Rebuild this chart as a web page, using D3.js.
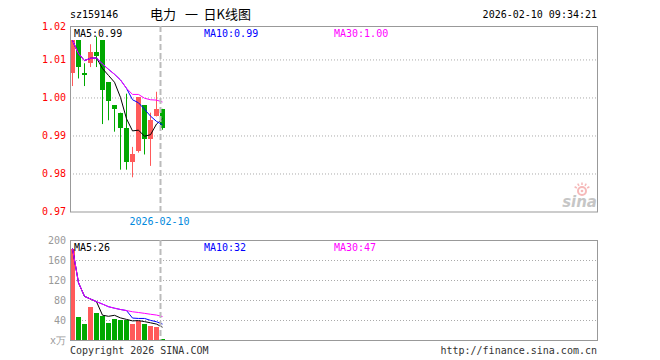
<!DOCTYPE html>
<html>
<head>
<meta charset="utf-8">
<script src="https://cdnjs.cloudflare.com/ajax/libs/d3/7.8.5/d3.min.js"></script>
<style>
body{margin:0;background:#fff;}
svg{display:block;}
text{font-family:"DejaVu Sans Mono",monospace;font-size:10px;}
</style>
</head>
<body>
<svg></svg>
<script>
// daily candles, oldest first
const opens  = [1.0065,1.015,1.0065,1.009,1.012,1.015,1.004,0.998,0.996,0.992,0.983,0.986,0.998,0.989,0.995,0.997];
const highs  = [1.015,1.015,1.009,1.014,1.016,1.015,1.004,0.998,0.996,1.001,0.987,1.000,0.998,0.996,1.0015,0.997];
const lows   = [1.003,1.005,1.003,1.008,1.008,0.993,0.994,0.991,0.981,0.981,0.979,0.9855,0.985,0.982,0.995,0.9915];
const closes = [1.015,1.008,1.006,1.012,1.011,1.002,0.999,0.997,0.992,0.983,0.985,1.000,0.989,0.994,0.997,0.992];

const ma5  = [1.015,1.0115,1.0097,1.0103,1.0104,1.0076,1.0058,1.0040,1.0000,0.9944,0.9912,0.9914,0.9898,0.9902,0.9930,0.9944];
const ma10 = [1.015,1.0115,1.0097,1.0103,1.0104,1.0088,1.0074,1.0061,1.0046,1.0024,0.9994,0.9986,0.9969,0.9951,0.9937,0.9928];
const ma30 = [1.015,1.0115,1.0097,1.0103,1.0104,1.0088,1.0074,1.0061,1.0046,1.0024,1.0008,1.0008,0.9998,0.9994,0.9993,0.9988];

// volume in 万
const volumes = [183,46,33,66,55,48,35,43,40,40,33,38,33,28,27,2];
const volMa5  = [183,114.5,87.3,82,76.6,49.6,47.4,49.4,44.2,41.2,38.2,38.8,36.8,34.4,31.8,25.6];
const volMa10 = [183,114.5,87.3,82,76.6,71.8,66.6,63.6,61,58.9,43.9,43.1,43.1,39.3,36.5,31.9];
const volMa30 = [183,114.5,87.3,82,76.6,71.8,66.6,63.6,61,58.9,56.5,55,53.3,51.5,49.9,46.9];

const priceTicks = [0.97,0.98,0.99,1.00,1.01];
const priceMax = 1.0188;
const volTicks = [0,40,80,120,160,200];

const code = 'sz159146';
const titleParts = ['电力','一','日K线图'];
const stamp = '2026-02-10 09:34:21';
const markDate = '2026-02-10';
const markIndex = 15;
const maLabels = ['MA5:0.99','MA10:0.99','MA30:1.00'];
const volLabels = ['MA5:26','MA10:32','MA30:47'];

const svgWidth = 660;
const svgHeight = 360;
const left = 70, right = 597;
const priceTop = 26, priceBottom = 211.5;
const volTop = 240, volBottom = 340;
const slots = 88;
const red = '#ff5a5a', green = '#00a800';
const lineColors = ['#000000','#0000ff','#ff00ff'];

const svg = d3.select('svg').attr('width',svgWidth).attr('height',svgHeight);

const xScale = d3.scaleLinear().domain([0,slots]).range([left,left+slots*6]);
const yScale = d3.scaleLinear().domain([0.97,priceMax]).range([priceBottom,priceTop]);
const vScale = d3.scaleLinear().domain([0,200]).range([volBottom,volTop]);

const isUp = (i) => closes[i] > opens[i];

const createHeader = () =>{
    svg.append('text').attr('x',left).attr('y',18).text(code);
    const tx = [150,185,203.5];
    titleParts.forEach((t,k) =>{
        svg.append('text').attr('x',tx[k]).attr('y',19)
            .style('font-family','"Noto Sans CJK SC",sans-serif').style('font-size','13px')
            .text(t);
    })
    svg.append('text').attr('x',right).attr('y',18).attr('text-anchor','end').text(stamp);
}

const createGrid = () =>{
    const priceGrid = d3.axisLeft(yScale).tickValues(priceTicks.slice(1)).tickSize(-(right-left)).tickFormat('');
    svg.append('g').attr('transform','translate(' + left + ',0)').call(priceGrid)
        .call(g => g.select('.domain').remove())
        .selectAll('line').attr('stroke','#aaa').attr('stroke-dasharray','1,2');

    const volGrid = d3.axisLeft(vScale).tickValues(volTicks.slice(1,-1)).tickSize(-(right-left)).tickFormat('');
    svg.append('g').attr('transform','translate(' + left + ',0)').call(volGrid)
        .call(g => g.select('.domain').remove())
        .selectAll('line').attr('stroke','#aaa').attr('stroke-dasharray','1,2');
}

const createAxes = () =>{
    const yAxis = d3.axisLeft(yScale).tickValues([...priceTicks,priceMax])
        .tickSize(0).tickPadding(4).tickFormat(d3.format('.2f'));
    svg.append('g').attr('transform','translate(' + left + ',0)').call(yAxis)
        .call(g => g.select('.domain').remove())
        .selectAll('text').attr('fill','#ff0000').style('font-family','"DejaVu Sans Mono",monospace').style('font-size','10px');

    const vAxis = d3.axisLeft(vScale).tickValues(volTicks)
        .tickSize(0).tickPadding(4).tickFormat(d => d === 0 ? 'x万' : d);
    svg.append('g').attr('transform','translate(' + left + ',0)').call(vAxis)
        .call(g => g.select('.domain').remove())
        .selectAll('text').attr('fill','#999').style('font-family','"DejaVu Sans Mono",monospace').style('font-size','10px');
}

const createCandles = () =>{
    const g = svg.append('g');
    g.selectAll('line.wick')
        .data(closes)
        .enter()
        .append('line')
        .attr('class','wick')
        .attr('x1',(d,i) => xScale(i)+2.5)
        .attr('x2',(d,i) => xScale(i)+2.5)
        .attr('y1',(d,i) => yScale(highs[i]))
        .attr('y2',(d,i) => yScale(lows[i]))
        .attr('stroke',(d,i) => isUp(i) ? red : green)
        .attr('stroke-width',1);

    g.selectAll('rect.body')
        .data(closes)
        .enter()
        .append('rect')
        .attr('class','body')
        .attr('x',(d,i) => xScale(i))
        .attr('width',5)
        .attr('y',(d,i) => yScale(Math.max(opens[i],d)))
        .attr('height',(d,i) => Math.max(1.5,Math.abs(yScale(opens[i])-yScale(d))))
        .attr('fill',(d,i) => isUp(i) ? red : green)
        .attr('shape-rendering','crispEdges');
}

const createVolumes = () =>{
    svg.append('g').selectAll('rect')
        .data(volumes)
        .enter()
        .append('rect')
        .attr('x',(d,i) => xScale(i))
        .attr('width',5)
        .attr('y',(d) => vScale(d))
        .attr('height',(d) => volBottom - vScale(d))
        .attr('fill',(d,i) => isUp(i) ? red : green)
        .attr('shape-rendering','crispEdges');
}

const createLines = (series,scale) =>{
    const line = d3.line().x((d,i) => xScale(i)+2.5).y(d => scale(d));
    series.forEach((s,k) =>{
        svg.append('path')
            .datum(s)
            .attr('d',line)
            .attr('fill','none')
            .attr('stroke',lineColors[k])
            .attr('stroke-width',1);
    })
}

const createFrames = () =>{
    svg.append('rect').attr('x',left+0.5).attr('y',priceTop+0.5)
        .attr('width',right-left).attr('height',priceBottom-priceTop)
        .attr('fill','none').attr('stroke','#999');
    svg.append('rect').attr('x',left+0.5).attr('y',volTop+0.5)
        .attr('width',right-left).attr('height',volBottom-volTop)
        .attr('fill','none').attr('stroke','#999');

    const mx = Math.round(xScale(markIndex)) + 0.5;
    [[priceTop,priceBottom],[volTop,volBottom]].forEach(([a,b]) =>{
        svg.append('line').attr('x1',mx).attr('x2',mx).attr('y1',a).attr('y2',b)
            .attr('stroke','#bbb').attr('stroke-width',2).attr('stroke-dasharray','6,3');
    })
    svg.append('text').attr('x',mx-1).attr('y',225).attr('text-anchor','middle')
        .attr('fill','#0088dd').text(markDate);
}

const createLegends = () =>{
    const xs = [74,204,334];
    maLabels.forEach((t,k) =>{
        svg.append('text').attr('x',xs[k]).attr('y',37).attr('fill',lineColors[k]).text(t);
    })
    volLabels.forEach((t,k) =>{
        svg.append('text').attr('x',xs[k]).attr('y',251).attr('fill',lineColors[k]).text(t);
    })
}

const createFooter = () =>{
    svg.append('text').attr('x',left).attr('y',354).attr('fill','#333').text('Copyright 2026 SINA.COM');
    svg.append('text').attr('x',right).attr('y',354).attr('text-anchor','end').attr('fill','#333').text('http://finance.sina.com.cn');

    // sina watermark
    const logo = svg.append('g').attr('opacity',0.55);
    logo.append('circle').attr('cx',582).attr('cy',191).attr('r',4)
        .attr('fill','none').attr('stroke','#f08080').attr('stroke-width',2);
    logo.append('circle').attr('cx',582).attr('cy',191).attr('r',1.3).attr('fill','#f08080');
    [-60,-30,0,30,60].forEach(a =>{
        const r = a*Math.PI/180;
        logo.append('line')
            .attr('x1',582+6*Math.sin(r)).attr('y1',191-6*Math.cos(r))
            .attr('x2',582+8.5*Math.sin(r)).attr('y2',191-8.5*Math.cos(r))
            .attr('stroke','#f08080').attr('stroke-width',1.5);
    })
    logo.append('text').attr('x',597).attr('y',207).attr('text-anchor','end')
        .style('font-family','"DejaVu Sans",sans-serif').style('font-size','15px')
        .style('font-style','italic').style('font-weight','bold')
        .attr('fill','#999').text('sina');
}

createHeader()
createGrid()
createAxes()
createCandles()
createVolumes()
createLines([ma5,ma10,ma30],yScale)
createLines([volMa5,volMa10,volMa30],vScale)
createFrames()
createLegends()
createFooter()
</script>
</body>
</html>
